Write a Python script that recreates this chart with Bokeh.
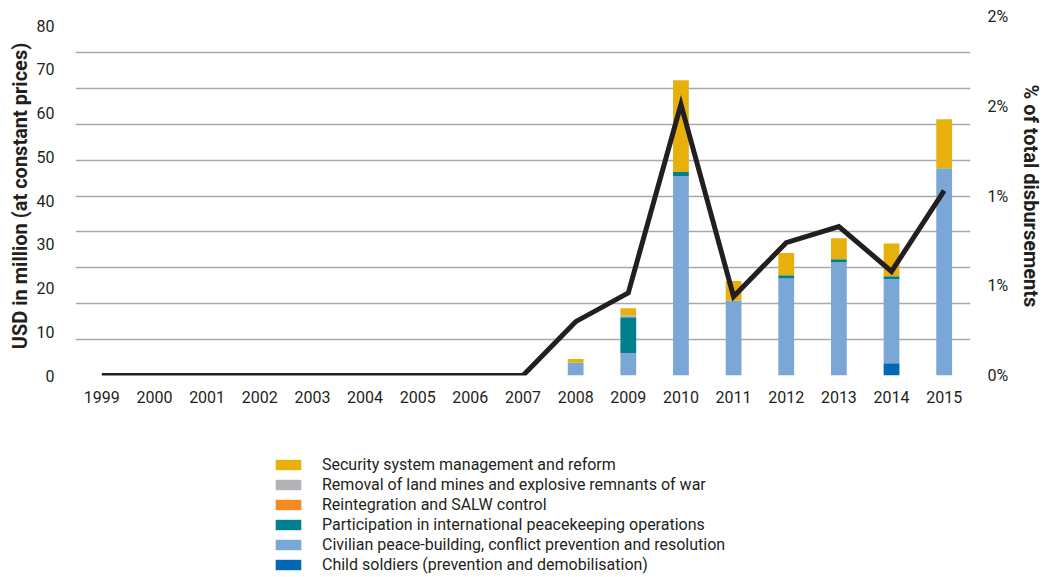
from bokeh.plotting import figure
from bokeh.layouts import column
from bokeh.models import (FactorRange, Range1d, LinearAxis, FixedTicker, Legend, LegendItem,
                          CustomJSTickFormatter, ColumnDataSource, Grid)
from bokeh.embed import file_html
from bokeh.resources import INLINE

years = [str(y) for y in range(1999, 2016)]
child_soldiers = [0, 0, 0, 0, 0, 0, 0, 0, 0, 0, 0, 0, 0, 0, 0, 2.8, 0]
civilian = [0, 0, 0, 0, 0, 0, 0, 0, 0, 2.9, 5.1, 45.6, 17.1, 22.2, 25.9, 19.2, 47.4]
participation = [0, 0, 0, 0, 0, 0, 0, 0, 0, 0, 8.2, 0.9, 0, 0.7, 0.7, 0.7, 0]
reintegration = [0] * 17
removal = [0, 0, 0, 0, 0, 0, 0, 0, 0, 0, 0.5, 0, 0, 0, 0, 0, 0]
security = [0, 0, 0, 0, 0, 0, 0, 0, 0, 0.9, 1.6, 21.0, 4.5, 5.1, 4.8, 7.5, 11.2]
share_pct = [0, 0, 0, 0, 0, 0, 0, 0, 0, 0.0030, 0.0046, 0.0151, 0.0044, 0.0074, 0.0083, 0.0058, 0.0103]

left_ticks = [0, 10, 20, 30, 40, 50, 60, 70, 80]
right_ticks = [0, 0.005, 0.01, 0.015, 0.02]
grid_ticks = [0, 0.002, 0.004, 0.006, 0.008, 0.01, 0.012, 0.014, 0.016, 0.018, 0.02]

series = ["child", "civilian", "participation", "reintegration", "removal", "security"]
labels = ["Child soldiers (prevention and demobilisation)",
          "Civilian peace-building, conflict prevention and resolution",
          "Participation in international peacekeeping operations",
          "Reintegration and SALW control",
          "Removal of land mines and explosive remnants of war",
          "Security system management and reform"]
colors = ["#0068b4", "#7ba7d7", "#00808e", "#f58a1f", "#b1b3b6", "#e7b00c"]

src = ColumnDataSource(dict(year=years, child=child_soldiers, civilian=civilian,
                            participation=participation, reintegration=reintegration,
                            removal=removal, security=security, share=share_pct))

FONT = "Roboto"
TXT = "#231f20"

p = figure(x_range=FactorRange(*years), y_range=Range1d(0, 82.06),
           frame_width=895, frame_height=359,
           min_border_left=75, min_border_right=77, min_border_top=16, min_border_bottom=50,
           output_backend="svg", toolbar_location=None)
p.outline_line_color = None
p.extra_y_ranges = {"pct": Range1d(0, 0.02)}

rs = p.vbar_stack(series, x="year", width=0.3, color=colors, line_color=None, source=src)
p.line(x="year", y="share", y_range_name="pct", source=src, line_width=5,
       line_color=TXT, line_join="miter")

p.xgrid.visible = False
p.ygrid.visible = False
g = Grid(dimension=1, ticker=FixedTicker(ticks=grid_ticks), y_range_name="pct",
         grid_line_color="#a7a9ac", grid_line_width=1.5, level="underlay")
p.add_layout(g)

# left axis
ya = p.yaxis[0]
ya.ticker = FixedTicker(ticks=left_ticks)
ya.axis_line_color = None
ya.major_tick_line_color = None
ya.minor_tick_line_color = None
ya.major_label_standoff = 15
ya.major_label_text_font = FONT
ya.major_label_text_font_size = "16px"
ya.major_label_text_color = TXT
ya.axis_label = "USD in million (at constant prices)"
ya.axis_label_text_font = FONT
ya.axis_label_text_font_style = "bold"
ya.axis_label_text_font_size = "20px"
ya.axis_label_text_color = TXT
ya.axis_label_standoff = 2

# right axis
ra = LinearAxis(y_range_name="pct", ticker=FixedTicker(ticks=right_ticks),
                formatter=CustomJSTickFormatter(code="return Math.round(tick*100 + 1e-9) + '%';"))
ra.axis_line_color = None
ra.major_tick_line_color = None
ra.minor_tick_line_color = None
ra.major_label_standoff = 11
ra.major_label_text_font = FONT
ra.major_label_text_font_size = "16px"
ra.major_label_text_color = TXT
ra.axis_label = "% of total disbursements"
ra.axis_label_text_font = FONT
ra.axis_label_text_font_style = "bold"
ra.axis_label_text_font_size = "20px"
ra.axis_label_text_color = TXT
ra.axis_label_standoff = 8
p.add_layout(ra, "right")

# x axis
xa = p.xaxis[0]
xa.axis_line_color = None
xa.major_tick_line_color = None
xa.minor_tick_line_color = None
xa.major_label_standoff = 9
xa.major_label_text_font = FONT
xa.major_label_text_font_size = "16px"
xa.major_label_text_color = TXT

# legend panel (separate figure below the chart, same borders so the column keeps alignment);
# its stacked bars lie outside its y range, so only the legend swatches show
lf = figure(x_range=FactorRange(*years), y_range=Range1d(100, 101),
            frame_width=895, frame_height=152,
            min_border_left=75, min_border_right=77, min_border_top=0, min_border_bottom=0,
            output_backend="svg", toolbar_location=None)
lf.outline_line_color = None
lf.axis.visible = False
lf.grid.visible = False
lrs = lf.vbar_stack(series, x="year", width=0.3, color=colors, line_color=None, source=src)

items = [LegendItem(label=labels[i], renderers=[lrs[i]]) for i in reversed(range(len(series)))]
legend = Legend(items=items, location=(197, 3), orientation="vertical",
                glyph_width=32, glyph_height=13, label_height=20, spacing=0,
                label_standoff=18, padding=0, margin=0,
                label_text_font=FONT, label_text_font_size="16px",
                label_text_color=TXT, background_fill_alpha=0,
                border_line_color=None)
lf.add_layout(legend, "center")

layout = column(p, lf, spacing=0)
open("out.html", "w").write(file_html(layout, INLINE))
